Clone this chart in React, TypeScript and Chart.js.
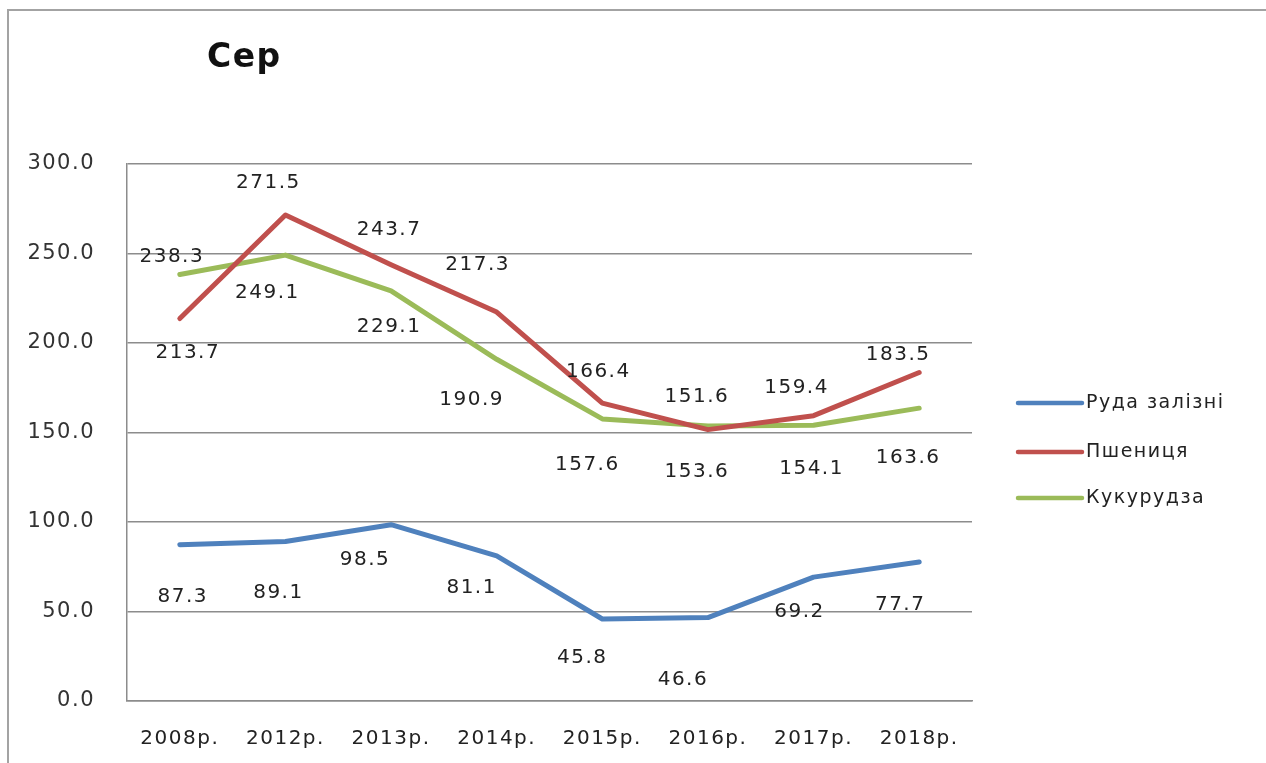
import React, { useEffect, useRef } from "react";
import { Chart, registerables } from "chart.js";

Chart.register(...registerables);

// ---- data ----
const categories = ["2008р.", "2012р.", "2013р.", "2014р.", "2015р.", "2016р.", "2017р.", "2018р."];
const seriesNames = ["Руда залізні", "Пшениця", "Кукурудза"];
const oreValues = [87.3, 89.1, 98.5, 81.1, 45.8, 46.6, 69.2, 77.7];
const wheatValues = [213.7, 271.5, 243.7, 217.3, 166.4, 151.6, 159.4, 183.5];
const cornValues = [238.3, 249.1, 229.1, 190.9, 157.6, 153.6, 154.1, 163.6];
const titleText = "Сер";
const yMin = 0;
const yMax = 300;
const yStep = 50;

// ---- style ----
const FONT = '"DejaVu Sans", Verdana, sans-serif';
const seriesColors = ["#4F81BD", "#C0504D", "#9BBB59"];
// label placement relative to each point (px), imitating the original layout
const oreLabelShift = [[3, 52], [-7, 51], [-26, 35], [-25, 32], [-20, 39], [-25, 62], [-14, 35], [-19, 43]];
const wheatLabelShift = [[8, 34], [-17, -32], [-2, -35], [-19, -47], [-4, -31], [-11, -33], [-17, -28], [-21, -18]];
const cornLabelShift = [[-8, -18], [-18, 38], [-2, 36], [-25, 41], [-15, 46], [-11, 46], [-2, 44], [-11, 50]];
const labelShifts = [oreLabelShift, wheatLabelShift, cornLabelShift];

const decorPlugin = {
  id: "decor",
  beforeDraw(chart: any) {
    const ctx = chart.ctx as any;
    ctx.letterSpacing = "1.5px";
    ctx.save();
    ctx.strokeStyle = "#a3a3a3";
    ctx.lineWidth = 2;
    ctx.beginPath();
    ctx.moveTo(8, 763);
    ctx.lineTo(8, 10);
    ctx.lineTo(1266, 10);
    ctx.stroke();
    ctx.font = `bold 33px ${FONT}`;
    ctx.fillStyle = "#111";
    ctx.textAlign = "left";
    ctx.textBaseline = "alphabetic";
    ctx.fillText(titleText, 207, 67);
    ctx.restore();
  },
  afterDatasetsDraw(chart: any) {
    const ctx = chart.ctx as any;
    ctx.save();
    ctx.font = `20px ${FONT}`;
    ctx.fillStyle = "#222";
    ctx.textAlign = "center";
    ctx.textBaseline = "middle";
    chart.data.datasets.forEach((ds: any, i: number) => {
      const meta = chart.getDatasetMeta(i);
      meta.data.forEach((pt: any, j: number) => {
        const sh = labelShifts[i][j];
        ctx.fillText(Number(ds.data[j]).toFixed(1), pt.x + sh[0], pt.y + sh[1]);
      });
    });
    ctx.restore();
  },
  afterDraw(chart: any) {
    const ctx = chart.ctx as any;
    ctx.save();
    const ys = [403, 452, 498];
    seriesNames.forEach((name, i) => {
      ctx.strokeStyle = seriesColors[i];
      ctx.lineWidth = 4.5;
      ctx.lineCap = "round";
      ctx.beginPath();
      ctx.moveTo(1018, ys[i]);
      ctx.lineTo(1082, ys[i]);
      ctx.stroke();
      ctx.font = `19px ${FONT}`;
      ctx.fillStyle = "#222";
      ctx.textAlign = "left";
      ctx.textBaseline = "middle";
      ctx.fillText(name, 1086, ys[i]);
    });
    ctx.restore();
    ctx.letterSpacing = "0px";
  },
};

export default function App() {
  const canvasRef = useRef<HTMLCanvasElement | null>(null);

  useEffect(() => {
    if (!canvasRef.current) return;
    const valueSets = [oreValues, wheatValues, cornValues];
    const chart = new Chart(canvasRef.current, {
      type: "line",
      data: {
        labels: categories,
        datasets: seriesNames.map((name, i) => ({
          label: name,
          data: valueSets[i],
          borderColor: seriesColors[i],
          backgroundColor: seriesColors[i],
          borderWidth: 5,
          borderJoinStyle: "round",
          borderCapStyle: "round",
          pointRadius: 0,
          pointHoverRadius: 0,
          tension: 0,
          fill: false,
        })),
      },
      options: {
        animation: false,
        responsive: false,
        maintainAspectRatio: false,
        devicePixelRatio: 1,
        layout: { padding: { left: 0, top: 164, right: 294, bottom: 0 } },
        plugins: {
          legend: { display: false },
          title: { display: false },
          tooltip: { enabled: false },
        },
        scales: {
          x: {
            type: "category",
            offset: true,
            grid: { display: false, drawTicks: false },
            border: { display: true, color: "#8c8c8c", width: 1.5 },
            ticks: {
              font: { family: FONT, size: 20 },
              color: "#222",
              padding: 26,
              autoSkip: false,
              maxRotation: 0,
              minRotation: 0,
            },
            afterFit: (s: any) => {
              s.height = 62;
            },
          },
          y: {
            min: yMin,
            max: yMax,
            ticks: {
              stepSize: yStep,
              callback: (v: any) => Number(v).toFixed(1),
              font: { family: FONT, size: 21 },
              color: "#333",
              padding: 32,
            },
            grid: { color: "#8c8c8c", lineWidth: 1.5, drawTicks: false },
            border: { display: true, color: "#8c8c8c", width: 1.5 },
            afterFit: (s: any) => {
              s.width = 127;
            },
          },
        },
      } as any,
      plugins: [decorPlugin],
    });
    return () => chart.destroy();
  }, []);

  return (
    <div style={{ position: "absolute", left: 0, top: 0, width: 1266, height: 763, background: "#fff" }}>
      <canvas ref={canvasRef} width={1266} height={763} style={{ display: "block" }} />
    </div>
  );
}
